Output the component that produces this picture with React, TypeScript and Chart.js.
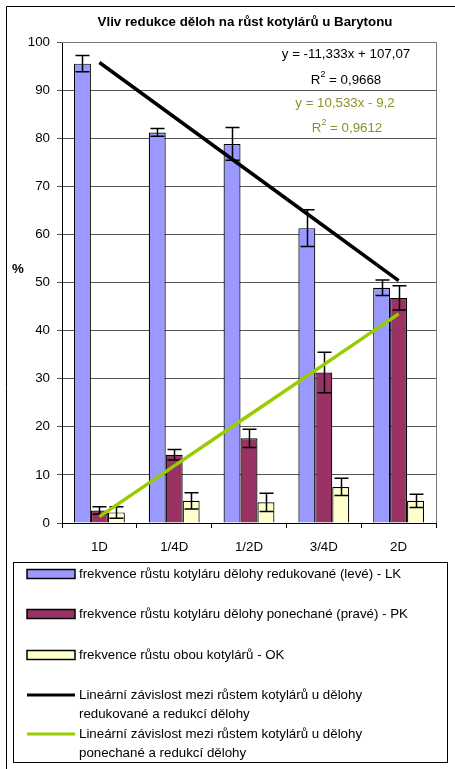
import React, { useEffect, useRef } from "react";
import { Chart, registerables } from "chart.js";

Chart.register(...registerables);

const categories = ["1D", "1/4D", "1/2D", "3/4D", "2D"];
const lkValues = [95.5, 81.2, 78.8, 61.3, 48.9];
const lkErrors = [1.7, 0.8, 3.4, 3.8, 1.6];
const pkValues = [2.6, 14.2, 17.6, 31.3, 46.8];
const pkErrors = [0.8, 1.1, 1.9, 4.2, 2.5];
const okValues = [2.2, 4.6, 4.3, 7.5, 4.6];
const okErrors = [1.2, 1.7, 1.9, 1.8, 1.4];
const trendLK = [95.74, 84.4, 73.07, 61.74, 50.4];
const trendPK = [1.33, 11.87, 22.4, 32.93, 43.47];

const titleText = "Vliv redukce děloh na růst kotylárů u Barytonu";
const eqLK = "y = -11,333x + 107,07";
const r2LK = "0,9668";
const eqPK = "y = 10,533x - 9,2";
const r2PK = "0,9612";
const yTitle = "%";

const legendItems = [
  { kind: "box", color: "#9999FF", lines: ["frekvence růstu kotyláru dělohy redukované (levé) - LK"] },
  { kind: "box", color: "#993366", lines: ["frekvence růstu kotyláru dělohy ponechané (pravé) - PK"] },
  { kind: "box", color: "#FFFFCC", lines: ["frekvence růstu obou kotylárů - OK"] },
  { kind: "line", color: "#000000", lines: ["Lineární závislost mezi růstem kotylárů u dělohy", "redukované a redukcí dělohy"] },
  { kind: "line", color: "#99CC00", lines: ["Lineární závislost mezi růstem kotylárů u dělohy", "ponechané a redukcí dělohy"] },
];

const FONT = "'Liberation Sans', Arial, sans-serif";
const FS = 13.3;
const errorSets = [lkErrors, pkErrors, okErrors];

const errorBarPlugin = {
  id: "errorBars",
  afterDatasetDraw(chart: any, args: any) {
    const i = args.index;
    if (i > 2) return;
    const errs = errorSets[i];
    const meta = chart.getDatasetMeta(i);
    const y = chart.scales.y;
    const ctx = chart.ctx;
    ctx.save();
    ctx.strokeStyle = "#000";
    ctx.lineWidth = 1.5;
    meta.data.forEach((bar: any, j: number) => {
      const v = chart.data.datasets[i].data[j];
      const top = y.getPixelForValue(v + errs[j]);
      const bot = y.getPixelForValue(Math.max(0, v - errs[j]));
      const x = Math.round(bar.x) + 0.5;
      const hw = 7;
      ctx.beginPath();
      ctx.moveTo(x, top);
      ctx.lineTo(x, bot);
      ctx.moveTo(x - hw, top);
      ctx.lineTo(x + hw, top);
      ctx.moveTo(x - hw, bot);
      ctx.lineTo(x + hw, bot);
      ctx.stroke();
    });
    ctx.restore();
  },
};

function drawR2(ctx: any, r: string, cx: number, cy: number) {
  ctx.font = `${FS}px ${FONT}`;
  const w1 = ctx.measureText("R").width;
  ctx.font = `9px ${FONT}`;
  const w2 = ctx.measureText("2").width;
  ctx.font = `${FS}px ${FONT}`;
  const rest = " = " + r;
  const w3 = ctx.measureText(rest).width;
  const total = w1 + w2 + w3;
  let x = cx - total / 2;
  ctx.textAlign = "left";
  ctx.textBaseline = "middle";
  ctx.fillText("R", x, cy);
  x += w1;
  ctx.font = `9px ${FONT}`;
  ctx.fillText("2", x, cy - 5);
  x += w2;
  ctx.font = `${FS}px ${FONT}`;
  ctx.fillText(rest, x, cy);
}

const decorPlugin = {
  id: "decor",
  afterDraw(chart: any) {
    const ctx = chart.ctx;
    const a = chart.chartArea;
    ctx.save();
    ctx.strokeStyle = "#000";
    ctx.lineWidth = 1;
    ctx.beginPath();
    ctx.moveTo(6.5, 769);
    ctx.lineTo(6.5, 6.5);
    ctx.lineTo(455, 6.5);
    ctx.stroke();
    ctx.strokeStyle = "#777";
    ctx.beginPath();
    ctx.moveTo(a.left, Math.round(a.top) + 0.5);
    ctx.lineTo(Math.round(a.right) + 0.5, Math.round(a.top) + 0.5);
    ctx.lineTo(Math.round(a.right) + 0.5, a.bottom);
    ctx.stroke();
    ctx.fillStyle = "#000";
    ctx.font = `bold ${FS}px ${FONT}`;
    ctx.textAlign = "center";
    ctx.textBaseline = "middle";
    ctx.fillText(titleText, 245, 22);
    ctx.fillText(yTitle, 18, 269);
    ctx.font = `${FS}px ${FONT}`;
    ctx.fillStyle = "#000";
    ctx.fillText(eqLK, 346, 54);
    drawR2(ctx, r2LK, 346, 80);
    ctx.fillStyle = "#8F8F2A";
    ctx.textAlign = "center";
    ctx.fillText(eqPK, 345, 103);
    drawR2(ctx, r2PK, 347, 128);
    ctx.strokeStyle = "#000";
    ctx.lineWidth = 1;
    ctx.strokeRect(13.5, 562.5, 434, 200);
    const rows = [574, 614, 655, 695, 734];
    legendItems.forEach((item, k) => {
      const cy = rows[k];
      if (item.kind === "box") {
        ctx.fillStyle = item.color;
        ctx.fillRect(27, cy - 4.5, 48, 9);
        ctx.strokeStyle = "#000";
        ctx.lineWidth = 1.5;
        ctx.strokeRect(27, cy - 4.5, 48, 9);
      } else {
        ctx.strokeStyle = item.color;
        ctx.lineWidth = 3;
        ctx.beginPath();
        ctx.moveTo(27, cy);
        ctx.lineTo(75, cy);
        ctx.stroke();
      }
      ctx.fillStyle = "#000";
      ctx.font = `${FS}px ${FONT}`;
      ctx.textAlign = "left";
      ctx.textBaseline = "middle";
      item.lines.forEach((ln, li) => {
        ctx.fillText(ln, 79, cy + li * 19.5);
      });
    });
    ctx.restore();
  },
};

export default function App() {
  const ref = useRef<HTMLCanvasElement | null>(null);
  useEffect(() => {
    if (!ref.current) return;
    const chart = new Chart(ref.current, {
      type: "bar",
      data: {
        labels: categories,
        datasets: [
          { type: "bar", label: "LK", data: lkValues, backgroundColor: "#9999FF", borderColor: "#000", borderWidth: 1.2, order: 2 },
          { type: "bar", label: "PK", data: pkValues, backgroundColor: "#993366", borderColor: "#000", borderWidth: 1.2, order: 2 },
          { type: "bar", label: "OK", data: okValues, backgroundColor: "#FFFFCC", borderColor: "#000", borderWidth: 1.2, order: 2 },
          { type: "line", label: "trend LK", data: trendLK, borderColor: "#000", borderWidth: 3.5, pointRadius: 0, fill: false, order: 1 },
          { type: "line", label: "trend PK", data: trendPK, borderColor: "#99CC00", borderWidth: 3.5, pointRadius: 0, fill: false, order: 1 },
        ] as any,
      },
      options: {
        responsive: false,
        animation: false,
        devicePixelRatio: 1,
        layout: { padding: { top: 42, right: 19, left: 0, bottom: 216 } },
        datasets: { bar: { categoryPercentage: 0.68, barPercentage: 1.0 } } as any,
        plugins: { legend: { display: false }, title: { display: false }, tooltip: { enabled: false } },
        scales: {
          x: {
            offset: true,
            grid: { display: true, drawOnChartArea: false, drawTicks: true, tickLength: 5, color: "#000", offset: true },
            border: { display: true, color: "#000" },
            ticks: { color: "#000", font: { family: FONT, size: FS }, padding: 11, maxRotation: 0 },
            afterFit: (s: any) => { s.height = 30; },
          },
          y: {
            min: 0,
            max: 100,
            ticks: { stepSize: 10, color: "#000", font: { family: FONT, size: FS }, padding: 7 },
            grid: { color: "#555", tickLength: 5, drawTicks: true },
            border: { display: true, color: "#000" },
            afterFit: (s: any) => { s.width = 62; },
          },
        },
      } as any,
      plugins: [errorBarPlugin, decorPlugin],
    });
    return () => chart.destroy();
  }, []);
  return (
    <div style={{ position: "absolute", left: 0, top: 0, width: 455, height: 769, background: "#fff" }}>
      <canvas ref={ref} width={455} height={769} style={{ display: "block" }} />
    </div>
  );
}
